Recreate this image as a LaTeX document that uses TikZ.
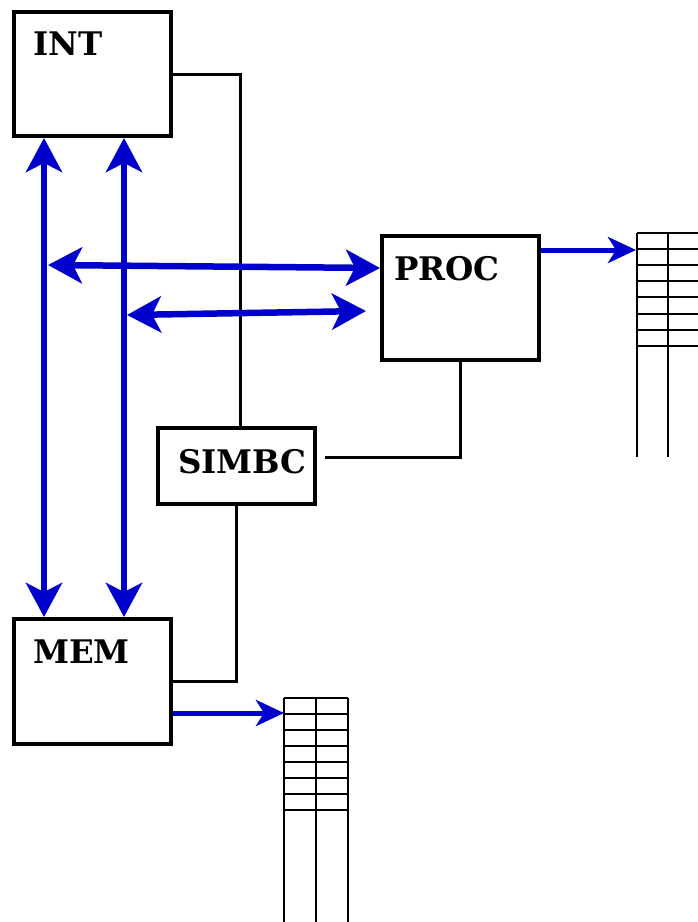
\documentclass[tikz,border=0pt]{standalone}
\usepackage{fontspec}
\setmainfont{DejaVu Serif}
\usetikzlibrary{arrows.meta}
\definecolor{busblue}{RGB}{0,0,204}
\tikzset{
  box/.style={draw, line width=4pt, minimum width=157pt, inner sep=0pt, anchor=north west},
  lbl/.style={anchor=base west, inner sep=0pt, font=\fontsize{32.5}{33}\selectfont\bfseries},
  wire/.style={line width=3pt},
  bus/.style={busblue, line width=6.5pt, {Stealth[length=34pt,width=36pt,inset=9pt]}-{Stealth[length=34pt,width=36pt,inset=9pt]}},
  feed/.style={busblue, line width=5pt, -{Stealth[length=28pt,width=26pt,inset=8pt]}},
  cell/.style={line width=2pt}
}
\begin{document}
\begin{tikzpicture}[x=1pt,y=-1pt]
\useasboundingbox (0,0) rectangle (698,922);
\node[box, minimum height=124pt] (int) at (12,10) {};
\node[box, minimum height=124pt] (proc) at (380,234) {};
\node[box, minimum height=76pt] (simbc) at (156,426) {};
\node[box, minimum height=125pt] (mem) at (12,617) {};
\node[lbl] (intl) at (33,55) {INT};
\node[lbl] (procl) at (394,280) {PROC};
\node[lbl] (simbcl) at (178,473) {SIMBC};
\node[lbl] (meml) at (33,663) {MEM};
% black control lines
\draw[wire] (int.east) -| ([xshift=4pt]simbc.north);
\draw[wire] (simbc.south) |- (mem.east);
\draw[wire] (proc.south) |- ([xshift=8pt,yshift=9pt]simbc.east);
% blue buses
\draw[bus] ([xshift=32pt]int.south west) -- ([xshift=32pt]mem.north west);
\draw[bus] ([xshift=112pt]int.south west) -- ([xshift=112pt]mem.north west);
\coordinate (busa) at (48,265);
\coordinate (busb) at (127,315);
\coordinate (proca) at (380,268);
\coordinate (procb) at (366,311);
\draw[bus] (busa) -- (proca);
\draw[bus] (busb) -- (procb);
% tables
\coordinate (tabp) at (636,250);
\coordinate (tabm) at (284,713);
\draw[feed] ([yshift=48pt]proc.east) -- (tabp);
\draw[feed] ([yshift=-31.5pt]mem.east) -- (tabm);
\foreach \y in {233,249.1,265.2,281.3,297.4,313.5,329.6,345.7}
  \draw[cell] (637,\y) -- (700,\y);
\foreach \x in {637,668,699}
  \draw[cell] (\x,233) -- (\x,457);
\foreach \y in {698,714,730,746,762,778,794,810}
  \draw[cell] (284,\y) -- (348,\y);
\foreach \x in {284,316,348}
  \draw[cell] (\x,698) -- (\x,924);
\end{tikzpicture}
\end{document}
